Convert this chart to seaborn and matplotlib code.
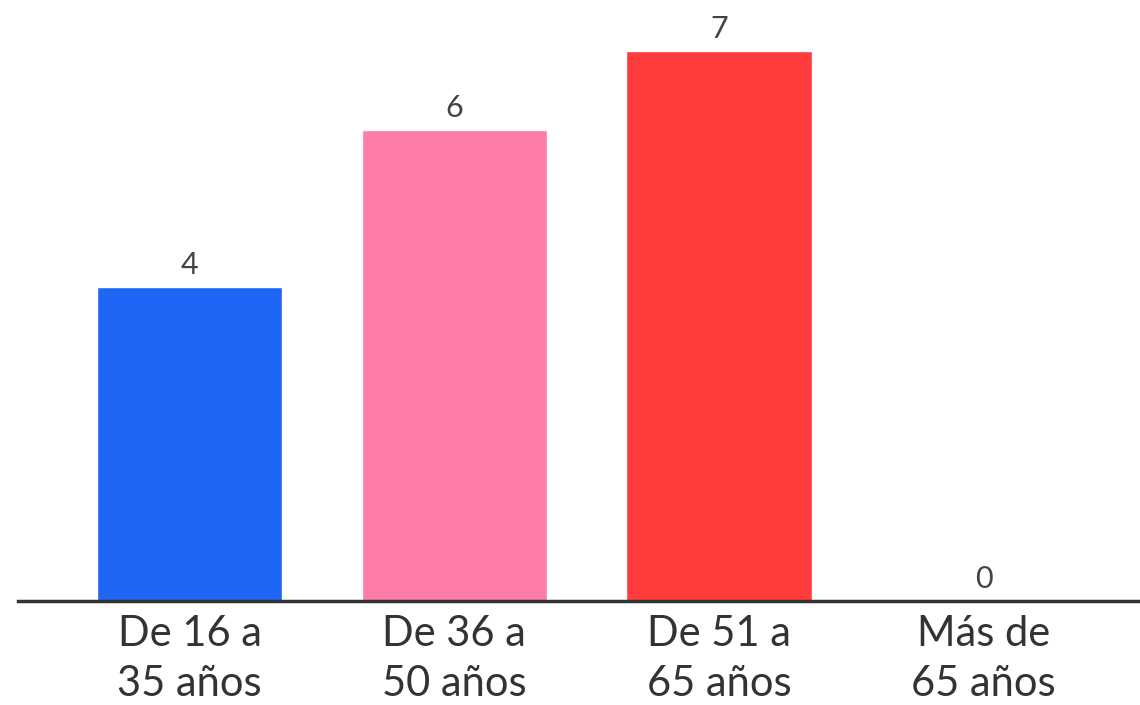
import matplotlib
matplotlib.use("Agg")
import matplotlib.pyplot as plt
import seaborn as sns
import pandas as pd

categories = ["De 16 a\n35 años", "De 36 a\n50 años", "De 51 a\n65 años", "Más de\n65 años"]
values = [4, 6, 7, 0]
colors = ["#1F66F5", "#FF7BA8", "#FF3B3B", "#FFFFFF"]

sns.set_style("white")
plt.rcParams['font.family'] = ['Lato', 'DejaVu Sans']

df = pd.DataFrame({"cat": categories, "val": values})

fig = plt.figure(figsize=(11.4, 7.05), dpi=100)
ax = fig.add_axes([0.0158, 0.1475, 0.9842, 0.8525])
sns.barplot(data=df, x="cat", y="val", hue="cat", palette=colors, width=0.7,
            legend=False, ax=ax, saturation=1)

ax.set_xlim(-0.648, 3.591)
ax.set_ylim(0, 7.656)
for s in ["top", "right", "left"]:
    ax.spines[s].set_visible(False)
ax.spines["bottom"].set_color("#333333")
ax.spines["bottom"].set_linewidth(2.5)
ax.set_yticks([])
ax.set_xlabel("")
ax.set_ylabel("")
ax.tick_params(axis="x", length=0, pad=10, labelsize=30, labelcolor="#333333")
for lab in ax.get_xticklabels():
    lab.set_linespacing(1.4)

for i, v in enumerate(values):
    ax.annotate(str(v), (i, v), xytext=(0, 6), textcoords="offset points",
                ha="center", va="bottom", fontsize=22, color="#444444")

fig.savefig("out.png", dpi=100, facecolor="white")
